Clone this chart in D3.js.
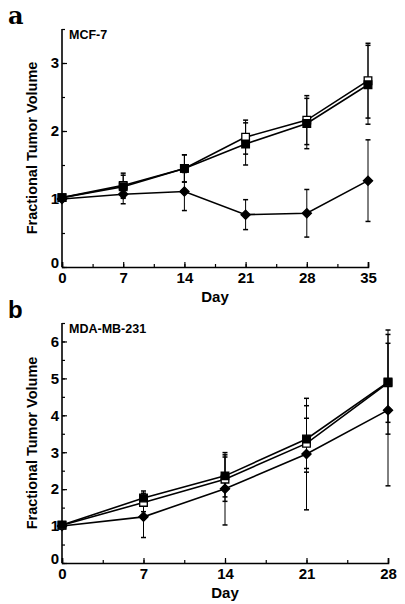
<!DOCTYPE html>
<html><head><meta charset="utf-8">
<script src="https://cdn.jsdelivr.net/npm/d3@7"></script>
<style>body{margin:0;background:#fff}svg{display:block}text{font-family:"Liberation Sans",Arial,sans-serif;font-weight:bold;fill:#000}</style>
</head><body>
<script>
// Panel a: MCF-7
const daysA = [0, 7, 14, 21, 28, 35];
const openA = [1.02, 1.20, 1.45, 1.91, 2.16, 2.74];
const openErrA = [0, 0.18, 0.20, 0.25, 0.36, 0.55];
const filledA = [1.02, 1.18, 1.45, 1.81, 2.11, 2.68];
const filledErrA = [0, 0.17, 0.20, 0.31, 0.37, 0.58];
const diamondA = [1.0, 1.07, 1.11, 0.77, 0.79, 1.27];
const diamondErrA = [0, 0.14, 0.28, 0.22, 0.35, 0.60];
const yTicksA = [0, 1, 2, 3];
// Panel b: MDA-MB-231
const daysB = [0, 7, 14, 21, 28];
const openB = [1.02, 1.64, 2.27, 3.24, 4.88];
const openErrB = [0, 0.25, 0.60, 0.68, 1.07];
const filledB = [1.03, 1.76, 2.36, 3.36, 4.90];
const filledErrB = [0, 0.19, 0.57, 0.90, 1.41];
const diamondB = [1.0, 1.25, 2.01, 2.95, 4.14];
const diamondErrB = [0, 0.56, 0.98, 1.51, 2.05];
const yTicksB = [0, 1, 2, 3, 4, 5, 6];

const svg = d3.select("body").append("svg").attr("width", 405).attr("height", 604);

function panel(cfg) {
  const x = d3.scaleLinear().domain([0, cfg.xMax]).range(cfg.xr);
  const y = d3.scaleLinear().domain([0, cfg.yMax]).range(cfg.yr);
  const g = svg.append("g");
  g.append("text").attr("x", 8).attr("y", cfg.letterY).style("font-size", "24px")
    .style("font-family", cfg.letterFont).text(cfg.letter);
  const xMinor = d3.range(0, cfg.xMax + 0.01, 3.5);
  const yMinor = d3.range(0, cfg.yMax + 0.01, 0.5);
  const xa = g.append("g").attr("transform", `translate(0,${cfg.yr[0]})`)
    .call(d3.axisBottom(x).tickValues(xMinor).tickSize(-3).tickFormat(""));
  xa.select(".domain").remove();
  const xa2 = g.append("g").attr("transform", `translate(0,${cfg.yr[0]})`)
    .call(d3.axisBottom(x).tickValues(cfg.days).tickSize(-5).tickPadding(8).tickFormat(d3.format("d")));
  xa2.select(".domain").attr("stroke-width", 1.6);
  xa2.selectAll("text").style("font-size", "15px").attr("dy", "0.72em").attr("y", 5);
  const ya = g.append("g").attr("transform", `translate(${cfg.xr[0]},0)`)
    .call(d3.axisLeft(y).tickValues(yMinor).tickSize(-3).tickFormat(""));
  ya.select(".domain").remove();
  const ya2 = g.append("g").attr("transform", `translate(${cfg.xr[0]},0)`)
    .call(d3.axisLeft(y).tickValues(cfg.yTicks).tickSize(-5).tickPadding(4).tickFormat(d3.format("d")));
  ya2.select(".domain").attr("stroke-width", 1.6).attr("d", `M0,${cfg.yr[0]}V${cfg.yr[1]}`);
  ya2.selectAll("text").style("font-size", "15px").attr("x", -3);
  ya2.selectAll(".tick").filter(d => d === 0).select("text").attr("dy", "0.05em");
  g.selectAll(".tick line").attr("stroke-width", 1.2);
  g.append("text").attr("x", cfg.xr[0] + 7).attr("y", cfg.yr[1] + 10).style("font-size", "12.5px").text(cfg.label);
  g.append("text").attr("transform", `translate(37,${(cfg.yr[0] + cfg.yr[1]) / 2}) rotate(-90)`)
    .attr("text-anchor", "middle").style("font-size", "14.5px").text("Fractional Tumor Volume");
  g.append("text").attr("x", (cfg.xr[0] + cfg.xr[1]) / 2).attr("y", cfg.dayY).attr("text-anchor", "middle")
    .style("font-size", "15px").text("Day");
  const line = d3.line().x(d => x(d.d)).y(d => y(d.v));
  cfg.series.forEach(s => {
    const pts = cfg.days.map((d, i) => ({ d, v: s.vals[i], e: s.errs[i] }));
    const eb = g.append("g").attr("stroke", "#000").attr("stroke-width", 1);
    pts.filter(p => p.e > 0).forEach(p => {
      eb.append("line").attr("x1", x(p.d)).attr("x2", x(p.d)).attr("y1", y(p.v - p.e)).attr("y2", y(p.v + p.e));
      [p.v - p.e, p.v + p.e].forEach(v => eb.append("line").attr("x1", x(p.d) - 2.5).attr("x2", x(p.d) + 2.5)
        .attr("y1", y(v)).attr("y2", y(v)).attr("stroke-width", 1.5));
    });
  });
  cfg.series.forEach(s => {
    const pts = cfg.days.map((d, i) => ({ d, v: s.vals[i] }));
    g.append("path").datum(pts).attr("d", line).attr("fill", "none").attr("stroke", "#000").attr("stroke-width", 1.6);
  });
  cfg.series.forEach(s => {
    const pts = cfg.days.map((d, i) => ({ d, v: s.vals[i] }));
    const sym = d3.symbol().type(d3.symbolSquare).size(s.shape === "diamond" ? 42 : 58);
    g.selectAll(null).data(pts).join("path")
      .attr("d", sym)
      .attr("transform", p => `translate(${x(p.d)},${y(p.v)})` + (s.shape === "diamond" ? " rotate(45)" : ""))
      .attr("fill", s.shape === "open" ? "#fff" : "#000")
      .attr("stroke", "#000").attr("stroke-width", 1.3);
  });
}

panel({
  letter: "a", letterY: 24, letterFont: "DejaVu Serif", label: "MCF-7",
  days: daysA, xMax: 35, yMax: 3.5, xr: [62, 368], yr: [267, 29], yTicks: yTicksA, dayY: 302,
  series: [
    { vals: diamondA, errs: diamondErrA, shape: "diamond" },
    { vals: openA, errs: openErrA, shape: "open" },
    { vals: filledA, errs: filledErrA, shape: "filled" }
  ]
});
panel({
  letter: "b", letterY: 318, letterFont: "Liberation Sans", label: "MDA-MB-231",
  days: daysB, xMax: 28, yMax: 6.5, xr: [62, 388], yr: [563, 323], yTicks: yTicksB, dayY: 598,
  series: [
    { vals: diamondB, errs: diamondErrB, shape: "diamond" },
    { vals: openB, errs: openErrB, shape: "open" },
    { vals: filledB, errs: filledErrB, shape: "filled" }
  ]
});
</script>
</body></html>
